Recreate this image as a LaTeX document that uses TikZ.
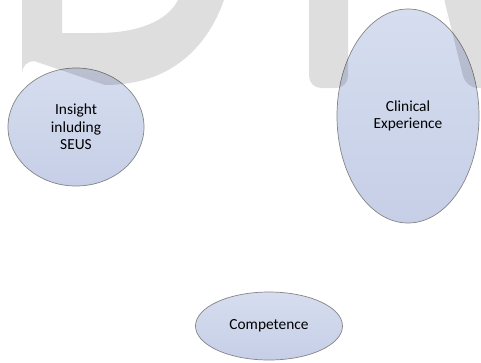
\documentclass[tikz,border=0pt]{standalone}
\usepackage{fontspec}
\setmainfont{Carlito}
\tikzset{
  bubble/.style={ellipse, draw=black!48, line width=0.7pt, top color=bubbletop, bottom color=bubblebot,
    align=center, font=\fontsize{15.4}{17.3}\selectfont, text=black, inner sep=0pt},
  wmark/.style={fill=black, fill opacity=0.13}
}
\usetikzlibrary{shapes.geometric}
\definecolor{bubbletop}{HTML}{D6DDEF}
\definecolor{bubblebot}{HTML}{C6CFE7}
\begin{document}
\begin{tikzpicture}[x=1pt,y=-1pt]
\useasboundingbox (0,0) rectangle (481,362);
\clip (0,0) rectangle (481,362);
% bubbles
\node[bubble, minimum width=136pt, minimum height=118pt] (insight) at (76,127) {Insight\\inluding\\SEUS};
\node[bubble, minimum width=142pt, minimum height=214pt] (clinical) at (408,116) {Clinical\\Experience};
\node[bubble, minimum width=147pt, minimum height=68pt] (competence) at (269,326) {Competence};
% watermark (drawn over, like a translucent grey layer)
\fill[wmark, even odd rule]
  (22,-5) -- (22,73) arc[start angle=180, end angle=90, x radius=12, y radius=-12] -- (105,85)
  .. controls (170,85) and (207,48) .. (224,0) -- (226,-5) -- cycle
  (62,-5) -- (62,33) -- (97,33) .. controls (140,33) and (168,20) .. (178,0) -- (180,-5) -- cycle;
\fill[wmark, rounded corners=12pt] (309,-20) -- (309,88) -- (348,88) -- (348,-20) -- cycle;
\fill[wmark, rounded corners=12pt] (443,-5) -- (466,88) -- (500,88) -- (500,-20) -- (441,-20) -- cycle;
\end{tikzpicture}
\end{document}
